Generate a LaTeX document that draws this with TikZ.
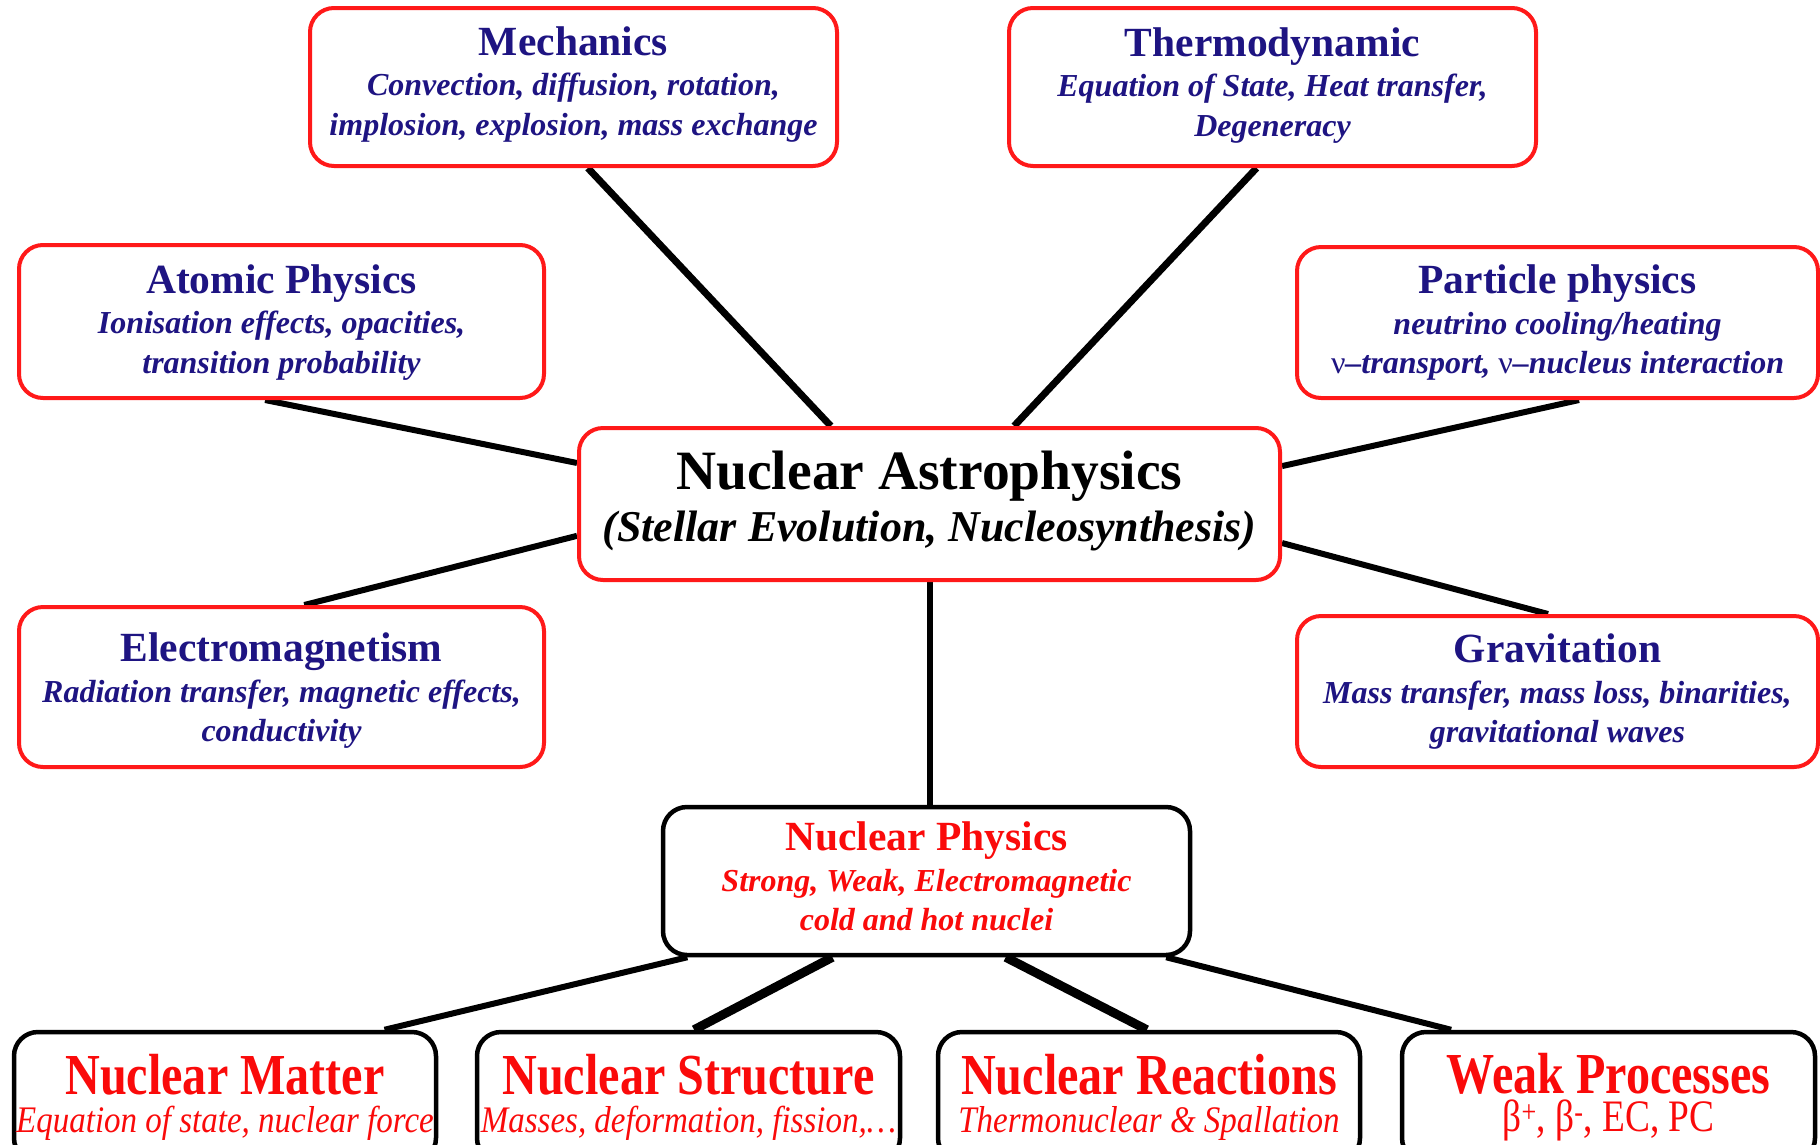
\documentclass[tikz,border=0pt]{standalone}
\usepackage{fontspec}
\setmainfont{Liberation Serif}
\newfontfamily\condfont[FakeStretch=0.83]{Liberation Serif}
\newfontfamily\condsubfont[FakeStretch=0.88]{Liberation Serif}
\usetikzlibrary{calc,backgrounds}
\definecolor{navy}{RGB}{30,20,130}
\definecolor{bred}{RGB}{255,25,25}
\definecolor{tred}{RGB}{250,10,10}
\newcommand\bxtitle{\fontsize{41.5}{42}\selectfont\bfseries\upshape}
\newcommand\bxsub{\fontsize{32}{39.5}\selectfont\bfseries\itshape}
\newcommand\cttitle{\fontsize{55.5}{52}\selectfont\bfseries\upshape}
\newcommand\ctsub{\fontsize{44}{52}\selectfont\bfseries\itshape}
\newcommand\bttitle{\condfont\fontsize{58}{38}\selectfont\bfseries\upshape}
\newcommand\btsub{\condsubfont\fontsize{37.5}{38}\selectfont\mdseries\itshape}
\tikzset{
  bluebox/.style={draw=bred, line width=4pt, rounded corners=24pt, fill=white,
    align=center, text=navy, inner sep=0pt, font=\bxsub},
  centerbox/.style={draw=bred, line width=4pt, rounded corners=24pt, fill=white,
    align=center, text=black, inner sep=0pt, font=\ctsub},
  npbox/.style={draw=black, line width=4.5pt, rounded corners=24pt, fill=white,
    align=center, text=tred, inner sep=0pt, font=\bxsub},
  bottombox/.style={draw=black, line width=4.5pt, rounded corners=24pt, fill=white,
    align=center, text=tred, inner sep=0pt, font=\btsub, minimum height=130pt},
  conn/.style={line width=6pt, black},
  connthick/.style={line width=7pt, black},
  connbold/.style={line width=9pt, black},
}
\begin{document}
\begin{tikzpicture}[x=1pt,y=-1pt]
\clip (0,0) rectangle (1820,1144);

\node[bluebox, minimum width=527pt, minimum height=158pt] (mech) at (573.5,87)
  {{\bxtitle Mechanics}\\[1pt]Convection, diffusion, rotation,\\implosion, explosion, mass exchange\rule[-12pt]{0pt}{1pt}};
\node[bluebox, minimum width=527pt, minimum height=158pt] (thermo) at (1272.5,87)
  {{\bxtitle Thermodynamic}\\[1pt]Equation of State, Heat transfer,\\Degeneracy\rule[-10pt]{0pt}{1pt}};
\node[bluebox, minimum width=525pt, minimum height=153pt] (atomic) at (281.5,321.5)
  {{\bxtitle\rule{0pt}{30pt}Atomic Physics}\\[1pt]Ionisation effects, opacities,\\transition probability};
\node[bluebox, minimum width=521pt, minimum height=151pt] (particle) at (1557.5,322.5)
  {{\bxtitle Particle physics}\\[1pt]neutrino cooling/heating\\{\mdseries\upshape ν}–transport, {\mdseries\upshape ν}–nucleus interaction};
\node[centerbox, minimum width=701pt, minimum height=152pt] (center) at (929.5,504)
  {{\cttitle Nuclear Astrophysics}\\(Stellar Evolution, Nucleosynthesis)\rule[-16pt]{0pt}{1pt}};
\node[bluebox, minimum width=525pt, minimum height=160pt] (em) at (281.5,687)
  {{\bxtitle\rule{0pt}{36pt}Electromagnetism}\\[1pt]Radiation transfer, magnetic effects,\\conductivity};
\node[bluebox, minimum width=521pt, minimum height=151pt] (grav) at (1557.5,691.5)
  {{\bxtitle Gravitation}\\[1pt]Mass transfer, mass loss, binarities,\\gravitational waves};
\node[npbox, minimum width=527pt, minimum height=148pt] (np) at (926.5,881)
  {{\bxtitle Nuclear Physics}\\[1pt]Strong, Weak, Electromagnetic\\cold and hot nuclei\rule[-9pt]{0pt}{1pt}};

\node[bottombox, minimum width=422pt] (matter) at (225,1097)
  {{\bttitle Nuclear Matter}\\Equation of state, nuclear force};
\node[bottombox, minimum width=423pt] (struct) at (688.5,1097)
  {{\bttitle Nuclear Structure}\\Masses, deformation, fission,…};
\node[bottombox, minimum width=422pt] (react) at (1149,1097)
  {{\bttitle Nuclear Reactions}\\Thermonuclear \& Spallation};
\node[bottombox, minimum width=413pt] (weak) at (1608.5,1097)
  {{\bttitle Weak Processes}\\{\condfont\fontsize{45}{38}\selectfont\upshape β\textsuperscript{+}, β\textsuperscript{-}, EC, PC}};

\coordinate (npTop) at (center.south |- np.north);

\begin{scope}[on background layer]
\draw[connthick] ($(mech.south west)!0.527!(mech.south east)$) -- ($(center.north west)!0.36!(center.north east)$);
\draw[connthick] ($(thermo.south west)!0.47!(thermo.south east)$) -- ($(center.north west)!0.62!(center.north east)$);
\draw[conn] ($(atomic.south west)!0.469!(atomic.south east)$) -- ($(center.north west)!0.237!(center.south west)$);
\draw[conn] ($(particle.south west)!0.541!(particle.south east)$) -- ($(center.north east)!0.257!(center.south east)$);
\draw[conn] ($(em.north west)!0.543!(em.north east)$) -- ($(center.north west)!0.704!(center.south west)$);
\draw[conn] ($(grav.north west)!0.482!(grav.north east)$) -- ($(center.north east)!0.75!(center.south east)$);
\draw[conn] (center.south) -- (npTop);
\draw[conn] ($(np.south west)!0.05!(np.south east)$) -- ($(matter.north west)!0.874!(matter.north east)$);
\draw[connbold] ($(np.south west)!0.323!(np.south east)$) -- ($(struct.north west)!0.513!(struct.north east)$);
\draw[connbold] ($(np.south west)!0.649!(np.south east)$) -- ($(react.north west)!0.495!(react.north east)$);
\draw[conn] ($(np.south west)!0.951!(np.south east)$) -- ($(weak.north west)!0.123!(weak.north east)$);
\end{scope}
\end{tikzpicture}
\end{document}
